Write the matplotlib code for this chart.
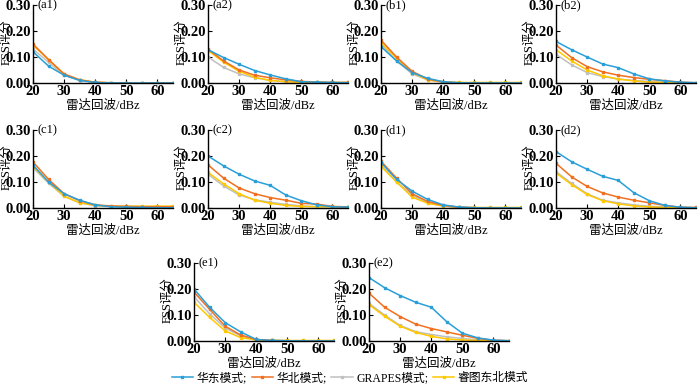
import matplotlib.pyplot as plt
import numpy as np

plt.rcParams['font.family'] = ['Liberation Serif', 'Noto Sans CJK SC']
plt.rcParams['axes.unicode_minus'] = False

# reflectivity thresholds (dBz)
dbz = [20, 25, 30, 35, 40, 45, 50, 55, 60, 65]

model_names = ['华东模式;', '华北模式;', 'GRAPES模式;', '睿图东北模式']
model_colors = ['#2a9fd8', '#f07020', '#c0c0c0', '#ffc800']

panel_labels = ['(a1)', '(a2)', '(b1)', '(b2)', '(c1)', '(c2)', '(d1)', '(d2)', '(e1)', '(e2)']

# FSS scores per panel: [华东, 华北, GRAPES, 睿图东北]
a1 = [[0.12, 0.065, 0.03, 0.01, 0.002, 0.0, 0.0, 0.0, 0.0, 0.0],
      [0.15, 0.09, 0.035, 0.012, 0.003, 0.001, 0.0, 0.0, 0.0, 0.0],
      [0.13, 0.08, 0.03, 0.01, 0.002, 0.0, 0.0, 0.0, 0.0, 0.0],
      [0.145, 0.09, 0.033, 0.012, 0.003, 0.001, 0.001, 0.001, 0.001, 0.001]]
a2 = [[0.128, 0.098, 0.072, 0.048, 0.031, 0.016, 0.005, 0.003, 0.002, 0.001],
      [0.13, 0.085, 0.05, 0.03, 0.02, 0.012, 0.006, 0.004, 0.002, 0.002],
      [0.10, 0.06, 0.035, 0.02, 0.01, 0.005, 0.003, 0.002, 0.001, 0.001],
      [0.125, 0.08, 0.045, 0.022, 0.01, 0.005, 0.002, 0.002, 0.002, 0.002]]
b1 = [[0.14, 0.085, 0.04, 0.018, 0.005, 0.001, 0.0, 0.0, 0.0, 0.0],
      [0.165, 0.10, 0.045, 0.015, 0.004, 0.001, 0.0, 0.0, 0.0, 0.0],
      [0.15, 0.085, 0.035, 0.012, 0.003, 0.001, 0.0, 0.0, 0.0, 0.0],
      [0.155, 0.095, 0.04, 0.012, 0.004, 0.002, 0.002, 0.002, 0.002, 0.002]]
b2 = [[0.16, 0.128, 0.10, 0.073, 0.059, 0.035, 0.016, 0.008, 0.003, 0.001],
      [0.146, 0.098, 0.063, 0.043, 0.03, 0.021, 0.014, 0.009, 0.003, 0.001],
      [0.11, 0.07, 0.04, 0.025, 0.015, 0.01, 0.006, 0.003, 0.001, 0.001],
      [0.128, 0.085, 0.05, 0.028, 0.015, 0.008, 0.003, 0.002, 0.001, 0.001]]
c1 = [[0.165, 0.10, 0.055, 0.03, 0.012, 0.005, 0.003, 0.002, 0.001, 0.001],
      [0.177, 0.11, 0.055, 0.028, 0.012, 0.008, 0.006, 0.005, 0.005, 0.005],
      [0.155, 0.095, 0.045, 0.02, 0.008, 0.005, 0.004, 0.003, 0.003, 0.003],
      [0.16, 0.10, 0.045, 0.02, 0.01, 0.007, 0.007, 0.007, 0.007, 0.007]]
c2 = [[0.20, 0.162, 0.13, 0.104, 0.087, 0.05, 0.028, 0.012, 0.005, 0.003],
      [0.166, 0.115, 0.077, 0.055, 0.04, 0.03, 0.018, 0.015, 0.006, 0.004],
      [0.13, 0.085, 0.05, 0.032, 0.022, 0.014, 0.008, 0.005, 0.004, 0.004],
      [0.137, 0.093, 0.055, 0.03, 0.018, 0.01, 0.006, 0.005, 0.005, 0.005]]
d1 = [[0.175, 0.11, 0.065, 0.033, 0.012, 0.004, 0.001, 0.0, 0.0, 0.0],
      [0.18, 0.115, 0.055, 0.025, 0.01, 0.003, 0.001, 0.0, 0.0, 0.0],
      [0.165, 0.10, 0.05, 0.02, 0.007, 0.002, 0.001, 0.0, 0.0, 0.0],
      [0.16, 0.10, 0.042, 0.018, 0.008, 0.003, 0.002, 0.002, 0.002, 0.002]]
d2 = [[0.217, 0.178, 0.149, 0.122, 0.106, 0.059, 0.028, 0.01, 0.003, 0.001],
      [0.172, 0.12, 0.083, 0.058, 0.042, 0.03, 0.02, 0.01, 0.003, 0.002],
      [0.14, 0.095, 0.055, 0.03, 0.02, 0.012, 0.007, 0.004, 0.002, 0.001],
      [0.135, 0.09, 0.052, 0.028, 0.016, 0.008, 0.004, 0.002, 0.001, 0.001]]
e1 = [[0.20, 0.13, 0.071, 0.035, 0.006, 0.002, 0.001, 0.0, 0.0, 0.0],
      [0.188, 0.122, 0.057, 0.023, 0.006, 0.002, 0.001, 0.0, 0.0, 0.0],
      [0.17, 0.105, 0.05, 0.02, 0.005, 0.002, 0.001, 0.0, 0.0, 0.0],
      [0.149, 0.091, 0.039, 0.013, 0.004, 0.002, 0.002, 0.002, 0.002, 0.002]]
e2 = [[0.244, 0.205, 0.175, 0.149, 0.13, 0.074, 0.03, 0.012, 0.003, 0.001],
      [0.184, 0.13, 0.094, 0.065, 0.048, 0.035, 0.022, 0.01, 0.003, 0.001],
      [0.145, 0.10, 0.06, 0.036, 0.025, 0.016, 0.01, 0.004, 0.002, 0.001],
      [0.14, 0.095, 0.057, 0.033, 0.018, 0.008, 0.004, 0.002, 0.001, 0.0]]

panels = [a1, a2, b1, b2, c1, c2, d1, d2, e1, e2]

# axes positions in pixels (left, top) on a 700x385 canvas
W, H = 700, 385
aw, ah = 140, 78
pos_px = [(33, 5), (208, 5), (381, 5), (556, 5),
          (33, 130), (208, 130), (381, 130), (556, 130),
          (194, 263), (369, 263)]

fig = plt.figure(figsize=(7, 3.85), dpi=100)

draw_order = [2, 3, 1, 0]
handles = {}
for k, data in enumerate(panels):
    left, top = pos_px[k]
    ax = fig.add_axes([left / W, 1 - (top + ah) / H, aw / W, ah / H])
    for i in draw_order:
        ln, = ax.plot(dbz, data[i], color=model_colors[i], lw=1.1,
                      marker='s', ms=1.8, mec=model_colors[i])
        handles[i] = ln
    ax.set_xlim(20, 65)
    ax.set_ylim(0, 0.30)
    ax.set_xticks([20, 30, 40, 50, 60])
    ax.set_yticks([0, 0.10, 0.20, 0.30])
    ax.set_yticklabels(['0.00', '0.10', '0.20', '0.30'])
    ax.spines['top'].set_visible(False)
    ax.spines['right'].set_visible(False)
    ax.spines['left'].set_linewidth(1.0)
    ax.spines['bottom'].set_linewidth(1.0)
    ax.tick_params(direction='in', length=3, width=0.8, pad=1.5,
                   labelsize=10.5)
    for t in ax.get_xticklabels() + ax.get_yticklabels():
        t.set_fontweight('bold')
    ax.set_xlabel('雷达回波/dBz', fontsize=9, labelpad=1)
    ax.text(-26 / aw, 0.52, 'FSS评分', transform=ax.transAxes, rotation=90,
            fontsize=9, ha='center', va='center')
    ax.text(0.03, 1.0, panel_labels[k], transform=ax.transAxes,
            fontsize=9, va='center', ha='left')

fig.legend([handles[i] for i in range(4)], model_names,
           loc='center', bbox_to_anchor=(0.5, 0.018), ncol=4,
           frameon=False, fontsize=8.5, handlelength=1.8,
           columnspacing=0.4, handletextpad=0.3, borderaxespad=0)

fig.savefig('out.png', dpi=100)
